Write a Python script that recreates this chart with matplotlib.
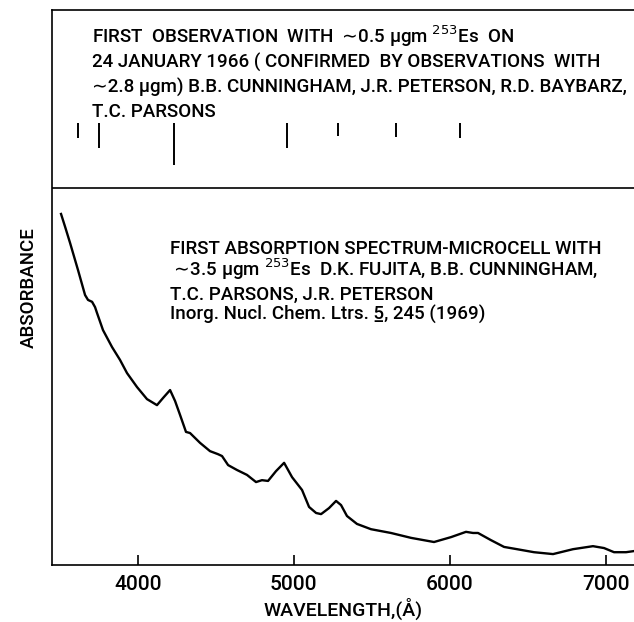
import matplotlib
matplotlib.use("Agg")
import matplotlib.pyplot as plt
from matplotlib import font_manager

# ---- data -------------------------------------------------------------
# absorption spectrum (wavelength in Angstrom, absorbance in arbitrary units)
wavelength = [3508, 3534, 3566, 3617, 3662, 3681, 3707, 3726, 3739, 3777,
              3835, 3886, 3931, 3995, 4059, 4091, 4123, 4162, 4207, 4239,
              4271, 4309, 4335, 4399, 4463, 4514, 4540, 4579, 4636, 4700,
              4758, 4796, 4835, 4886, 4938, 4989, 5053, 5098, 5143, 5175,
              5226, 5271, 5303, 5341, 5405, 5495, 5623, 5752, 5899, 6008,
              6104, 6149, 6181, 6264, 6348, 6431, 6540, 6662, 6790, 6918,
              6989, 7053, 7130, 7181]
absorbance = [0.931, 0.897, 0.854, 0.782, 0.716, 0.703, 0.698, 0.684, 0.668, 0.623,
              0.578, 0.544, 0.509, 0.472, 0.440, 0.432, 0.424, 0.443, 0.464, 0.435,
              0.398, 0.353, 0.350, 0.324, 0.302, 0.294, 0.289, 0.265, 0.252, 0.239,
              0.220, 0.225, 0.223, 0.249, 0.271, 0.233, 0.199, 0.154, 0.138, 0.135,
              0.151, 0.170, 0.159, 0.130, 0.109, 0.095, 0.085, 0.072, 0.061, 0.074,
              0.088, 0.085, 0.085, 0.066, 0.048, 0.042, 0.034, 0.029, 0.042, 0.050,
              0.045, 0.034, 0.034, 0.037]

# first observation: line positions and relative strengths (bar lengths)
line_wavelength = [3617, 3752, 4232, 4957, 5284, 5655, 6065]
line_strength = [0.040, 0.066, 0.111, 0.066, 0.034, 0.037, 0.040]

xticks = [4000, 5000, 6000, 7000]
xtick_labels = ["4000", "5000", "6000", "7000"]

top_lines = [
    "FIRST  OBSERVATION  WITH $\\sim\\!$0.5 μgm $^{253}$Es  ON",
    "24 JANUARY 1966 ( CONFIRMED  BY OBSERVATIONS  WITH",
    "\u223c2.8 μgm) B.B. CUNNINGHAM, J.R. PETERSON, R.D. BAYBARZ,",
    "T.C. PARSONS",
]
low_lines = [
    "FIRST ABSORPTION SPECTRUM-MICROCELL WITH",
    "$\\sim\\!$3.5 μgm $^{253}$Es  D.K. FUJITA, B.B. CUNNINGHAM,",
    "T.C. PARSONS, J.R. PETERSON",
    "Inorg. Nucl. Chem. Ltrs. 5\u0332, 245 (1969)",
]

# ---- font selection ----------------------------------------------------
names = {f.name for f in font_manager.fontManager.ttflist}
if "Roboto" in names:
    family, scale = "Roboto", 1.0
else:
    family, scale = "DejaVu Sans", 0.9

plt.rcParams["font.family"] = [family, "DejaVu Sans"]
plt.rcParams["font.weight"] = "medium"
plt.rcParams["axes.labelweight"] = "medium"
plt.rcParams["mathtext.fontset"] = "dejavusans"

fig = plt.figure(figsize=(6.34, 6.22), dpi=100)
ax = fig.add_axes([0.082, 0.0916, 0.918, 0.8924])

ax.plot(wavelength, absorbance, color="black", lw=1.7, solid_joinstyle="round")

sep = 1.0
line_top = 1.172
ax.axhline(sep, color="black", lw=1.2)
ax.vlines(line_wavelength, [line_top - s for s in line_strength], line_top,
          color="black", lw=1.4)

ax.set_xlim(3450, 7181)
ax.set_ylim(0, 1.472)

ax.spines["right"].set_visible(False)
for side in ["left", "top", "bottom"]:
    ax.spines[side].set_linewidth(1.2)

ax.set_xticks(xticks)
ax.set_xticklabels(xtick_labels, fontsize=15 * scale)
ax.tick_params(axis="x", direction="in", length=7, width=1.2, pad=7)
ax.set_yticks([])

ax.set_xlabel("WAVELENGTH,(Å)", fontsize=14 * scale, labelpad=3)
ax.set_ylabel("ABSORBANCE", fontsize=13.5 * scale, labelpad=10)

fs = 13.5 * scale
top_y = [0.9405, 0.8955, 0.8505, 0.8072]
for txt, y in zip(top_lines, top_y):
    ax.text(0.0687, y, txt, transform=ax.transAxes, ha="left", va="baseline",
            fontsize=fs)

low_y = [0.5604, 0.5207, 0.4775, 0.4414]
for txt, y in zip(low_lines, low_y):
    ax.text(0.2027, y, txt, transform=ax.transAxes, ha="left", va="baseline",
            fontsize=fs)

fig.savefig("out.png", dpi=100)
